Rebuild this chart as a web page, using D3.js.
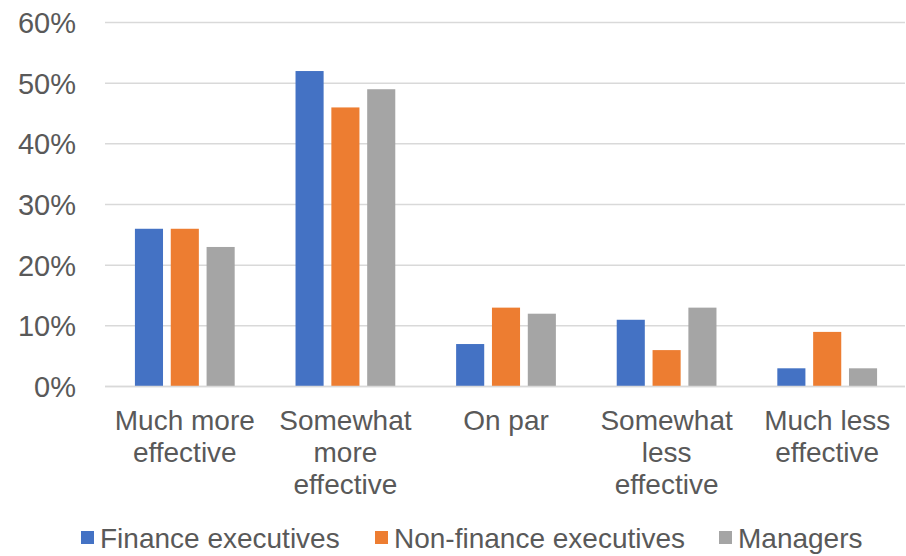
<!DOCTYPE html>
<html><head><meta charset="utf-8">
<script src="https://cdn.jsdelivr.net/npm/d3@7"></script>
<style>
html,body{margin:0;padding:0;background:#fff;}
svg text{font-family:"Liberation Sans",Arial,sans-serif;fill:#595959;}
</style></head>
<body><svg id="c" width="906" height="556"></svg>
<script>
const categories = ["Much more effective","Somewhat more effective","On par","Somewhat less effective","Much less effective"];
const categoryLines = [["Much more","effective"],["Somewhat","more","effective"],["On par"],["Somewhat","less","effective"],["Much less","effective"]];
const seriesNames = ["Finance executives","Non-finance executives","Managers"];
const financeExec = [0.26,0.52,0.07,0.11,0.03];
const nonFinanceExec = [0.26,0.46,0.13,0.06,0.09];
const managers = [0.23,0.49,0.12,0.13,0.03];
const yTicks = [0,0.1,0.2,0.3,0.4,0.5,0.6];
const colors = ["#4472C4","#ED7D31","#A5A5A5"];

const seriesValues = [financeExec, nonFinanceExec, managers];
const svg = d3.select("#c");
const y = d3.scaleLinear().domain([0,0.6]).range([386.5,22.5]);
const x0 = d3.scaleBand().domain(categories).range([104.5,907.5]).padding(0);
const x1 = d3.scaleBand().domain(seriesNames).range([0,x0.bandwidth()]).paddingInner(0.216).paddingOuter(0.849);

// gridlines
svg.append("g").selectAll("line").data(yTicks).join("line")
  .attr("x1",105).attr("x2",905)
  .attr("y1",d=>y(d)).attr("y2",d=>y(d))
  .attr("stroke","#d9d9d9").attr("stroke-width",1.5);

// y labels
svg.append("g").selectAll("text").data(yTicks).join("text")
  .attr("x",76).attr("y",d=>y(d)).attr("dy","0.36em")
  .attr("text-anchor","end").style("font-size","29px")
  .text(d=>d3.format(".0%")(d));

// bars
const g = svg.append("g");
categories.forEach((c,i)=>{
  seriesNames.forEach((s,j)=>{
    const v = seriesValues[j][i];
    g.append("rect")
      .attr("x", x0(c)+x1(s)).attr("width", x1.bandwidth())
      .attr("y", y(v)).attr("height", y(0)-y(v))
      .attr("fill", colors[j]);
  });
});

// baseline
svg.append("line").attr("x1",105).attr("x2",905).attr("y1",y(0)).attr("y2",y(0))
  .attr("stroke","#d9d9d9").attr("stroke-width",1.5);

// category labels
categories.forEach((c,i)=>{
  const cx = x0(c)+x0.bandwidth()/2;
  const t = svg.append("text").attr("text-anchor","middle").style("font-size","28px")
    .attr("x", cx).attr("y",430);
  categoryLines[i].forEach((ln,k)=>{
    t.append("tspan").attr("x", cx).attr("dy", k===0?0:32).text(ln);
  });
});

// legend
const legendX = [81,375,719];
seriesNames.forEach((s,j)=>{
  svg.append("rect").attr("x",legendX[j]).attr("y",531).attr("width",13).attr("height",13).attr("fill",colors[j]);
  svg.append("text").attr("x",legendX[j]+19).attr("y",548).style("font-size","28px").text(s);
});
</script></body></html>
